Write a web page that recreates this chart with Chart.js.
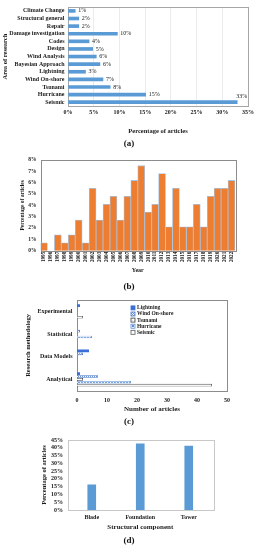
<!DOCTYPE html>
<html><head><meta charset="utf-8">
<script src="https://cdn.jsdelivr.net/npm/chart.js@4/dist/chart.umd.min.js"></script>
<style>
html,body{margin:0;padding:0;background:#fff;}
body{width:258px;height:550px;position:relative;overflow:hidden;font-family:"Liberation Serif",serif;}
.box{position:absolute;left:0;width:258px;}
.box canvas{display:block;}
.cap{position:absolute;left:0;width:258px;height:10px;line-height:10px;text-align:center;font-weight:bold;font-size:9px;color:#111;}
</style></head><body>
<div class="box" style="top:0;height:140px"><canvas id="ca" width="258" height="140"></canvas></div>
<div class="cap" style="top:138px">(a)</div>
<div class="box" style="top:150px;height:126px"><canvas id="cb" width="258" height="126"></canvas></div>
<div class="cap" style="top:281px">(b)</div>
<div class="box" style="top:292px;height:124px"><canvas id="cc" width="258" height="124"></canvas></div>
<div class="cap" style="top:416px">(c)</div>
<div class="box" style="top:432px;height:102px"><canvas id="cd" width="258" height="102"></canvas></div>
<div class="cap" style="top:535px">(d)</div>
<script>
// ---------- data ----------
const areaLabels = ['Climate Change','Structural general','Repair','Damage investigation','Codes','Design','Wind Analysis','Bayesian Approach','Lightning','Wind On-shore','Tsunami','Hurricane','Seismic'];
const areaValues = [1.4, 2.1, 2.1, 9.6, 4.1, 4.8, 5.5, 6.2, 3.4, 6.8, 8.2, 15.1, 32.9];

const years = ['1995','1996','1997','1998','1999','2000','2001','2002','2003','2004','2005','2006','2007','2008','2009','2010','2011','2012','2013','2014','2015','2016','2017','2018','2019','2020','2021','2022'];
const yearValues = [0.7, 0, 1.4, 0.7, 1.4, 2.7, 0.7, 5.5, 2.7, 4.1, 4.8, 2.7, 4.8, 6.2, 7.5, 3.4, 4.1, 6.8, 2.1, 5.5, 2.1, 2.1, 4.1, 2.1, 4.8, 5.5, 5.5, 6.2];

const methodCategories = ['Experimental','Statistical','Data Models','Analytical'];
const lightningCounts   = [1, 0, 4, 1];
const windOnshoreCounts = [0, 1, 2, 7];
const tsunamiCounts     = [0, 0, 0, 2];
const hurricaneCounts   = [0, 5, 0, 18];
const seismicCounts     = [2, 0, 0, 45];

const components = ['Blade','Foundation','Tower'];
const componentValues = [16.2, 42.6, 41.2];

// ---------- helpers ----------
Chart.defaults.font.family = '"Liberation Serif", "Times New Roman", serif';
Chart.defaults.font.weight = 'bold';
Chart.defaults.color = '#1a1a1a';
Chart.defaults.animation = false;
Chart.defaults.plugins.legend.display = false;
Chart.defaults.plugins.tooltip.enabled = false;

const framePlugin = {
  id: 'frame',
  beforeDatasetsDraw(chart, args, opts) {
    if (!opts || !opts.color) return;
    const a = chart.chartArea, ctx = chart.ctx;
    ctx.save();
    ctx.strokeStyle = opts.color;
    ctx.lineWidth = opts.width || 1;
    ctx.strokeRect(Math.round(a.left) + 0.5, Math.round(a.top) + 0.5, Math.round(a.right - a.left), Math.round(a.bottom - a.top));
    ctx.restore();
  }
};
const valueLabelPlugin = {
  id: 'valueLabels',
  afterDatasetsDraw(chart, args, opts) {
    if (!opts || !opts.show) return;
    const ctx = chart.ctx, meta = chart.getDatasetMeta(0), vals = chart.data.datasets[0].data;
    ctx.save();
    ctx.font = opts.font;
    ctx.fillStyle = opts.color;
    ctx.textBaseline = 'middle';
    ctx.textAlign = 'left';
    meta.data.forEach((bar, i) => {
      const txt = Math.round(vals[i]) + '%';
      const w = ctx.measureText(txt).width;
      let x = bar.x + 3, y = bar.y;
      if (x + w > chart.chartArea.right) { x = bar.x - 1; y = bar.y - 6; }
      ctx.fillText(txt, x, y);
    });
    ctx.restore();
  }
};
const innerLegendPlugin = {
  id: 'innerLegend',
  afterDraw(chart, args, opts) {
    if (!opts || !opts.show) return;
    const ctx = chart.ctx, a = chart.chartArea;
    const x0 = a.left + opts.fx * (a.right - a.left);
    let y = a.top + opts.dy;
    ctx.save();
    ctx.font = opts.font;
    ctx.textBaseline = 'middle';
    chart.data.datasets.forEach(ds => {
      ctx.fillStyle = ds.backgroundColor;
      ctx.fillRect(x0, y - 2, 4, 4);
      ctx.strokeStyle = ds.borderColor;
      ctx.lineWidth = 0.8;
      ctx.strokeRect(x0, y - 2, 4, 4);
      ctx.fillStyle = '#1a1a1a';
      ctx.fillText(ds.label, x0 + 6, y);
      y += opts.step;
    });
    ctx.restore();
  }
};
function makePattern(size, draw) {
  const c = document.createElement('canvas');
  c.width = c.height = size;
  const x = c.getContext('2d');
  draw(x);
  return x.createPattern(c, 'repeat');
}
const F = (size) => ({ family: '"Liberation Serif", "Times New Roman", serif', size: size, weight: 'bold' });
const noGrid = { display: false, drawTicks: false };

// ---------- (a) ----------
new Chart(document.getElementById('ca'), {
  type: 'bar',
  data: { labels: areaLabels, datasets: [{ data: areaValues, backgroundColor: '#5B9BD5', barThickness: 3 }] },
  options: {
    responsive: false, indexAxis: 'y',
    layout: { padding: { top: 3, right: 10, left: 0, bottom: 0 } },
    plugins: { frame: { color: '#a6a6a6' }, valueLabels: { show: true, font: '6px "Liberation Serif", serif', color: '#1a1a1a' } },
    scales: {
      y: {
        afterFit: s => { s.width = 68; },
        grid: noGrid, border: { display: false },
        ticks: { font: F(6), padding: 3.5, autoSkip: false },
        title: { display: true, text: 'Area of research', font: F(6.5), padding: { top: 1.2, bottom: 0 } }
      },
      x: {
        min: 0, max: 35,
        afterFit: s => { s.height = 34; },
        grid: { color: '#ececec', drawTicks: false }, border: { display: false },
        ticks: { stepSize: 5, font: F(6), padding: 3, autoSkip: false, callback: v => v + '%' },
        title: { display: true, text: 'Percentage of articles', font: F(6.5), padding: { top: 0, bottom: 5 } }
      }
    }
  },
  plugins: [framePlugin, valueLabelPlugin]
});

// ---------- (b) ----------
new Chart(document.getElementById('cb'), {
  type: 'bar',
  data: { labels: years, datasets: [{ data: yearValues, backgroundColor: '#ED7D31', borderColor: '#a9c4e0', borderWidth: 0.8, categoryPercentage: 1, barPercentage: 1 }] },
  options: {
    responsive: false,
    layout: { padding: { top: 10, right: 23, left: 0, bottom: 0 } },
    plugins: { frame: { color: '#8c8c8c' } },
    scales: {
      y: {
        min: 0, max: 8,
        afterFit: s => { s.width = 40.5; },
        grid: noGrid, border: { display: false },
        ticks: { stepSize: 1, font: F(5.5), padding: 4, autoSkip: false, callback: v => v + '%' },
        title: { display: true, text: 'Percentage of articles', font: F(5.5), padding: { top: 19.7, bottom: 0 } }
      },
      x: {
        afterFit: s => { s.height = 25.3; },
        grid: noGrid, border: { display: false },
        ticks: { font: F(5.2), padding: 1, autoSkip: false, minRotation: 90, maxRotation: 90 },
        title: { display: true, text: 'Year', font: F(6), padding: { top: 0, bottom: 2.2 } }
      }
    }
  },
  plugins: [framePlugin]
});

// ---------- (c) ----------
const ctxC = document.getElementById('cc').getContext('2d');
const windPat = makePattern(2, x => { x.fillStyle = '#fff'; x.fillRect(0,0,2,2); x.fillStyle = '#6f95d8'; x.fillRect(0,0,1,1); x.fillRect(1,1,1,1); });
const hurPat = makePattern(3, x => { x.fillStyle = '#fff'; x.fillRect(0,0,3,3); x.fillStyle = '#5b8fd6'; x.fillRect(0,0,2,2); });
const tsuPat = makePattern(2, x => { x.fillStyle = '#fff'; x.fillRect(0,0,2,2); x.fillStyle = '#d9d9d9'; x.fillRect(0,0,1,1); });
new Chart(ctxC, {
  type: 'bar',
  data: {
    labels: methodCategories,
    datasets: [
      { label: 'Lightning', data: lightningCounts, backgroundColor: '#3a6fd8', borderColor: '#3a6fd8', borderWidth: 0 },
      { label: 'Wind On-shore', data: windOnshoreCounts, backgroundColor: windPat, borderColor: '#4a78c8', borderWidth: 0.8 },
      { label: 'Tsunami', data: tsunamiCounts, backgroundColor: tsuPat, borderColor: '#404040', borderWidth: 0.8 },
      { label: 'Hurricane', data: hurricaneCounts, backgroundColor: hurPat, borderColor: '#5b8fd6', borderWidth: 0.8 },
      { label: 'Seismic', data: seismicCounts, backgroundColor: '#ffffff', borderColor: '#595959', borderWidth: 0.8 }
    ]
  },
  options: {
    responsive: false, indexAxis: 'y',
    datasets: { bar: { categoryPercentage: 0.64, barPercentage: 0.92 } },
    layout: { padding: { top: 3.5, right: 31, left: 0, bottom: 0 } },
    plugins: { frame: { color: '#8c8c8c' }, innerLegend: { show: true, fx: 0.36, dy: 7.8, step: 6.1, font: 'bold 5.5px "Liberation Serif", serif' } },
    scales: {
      y: {
        afterFit: s => { s.width = 77; },
        grid: noGrid, border: { display: false },
        ticks: { font: F(6), padding: 4.5, autoSkip: false },
        title: { display: true, text: 'Research methodology', font: F(6.5), padding: { top: 24, bottom: 0 } }
      },
      x: {
        min: 0, max: 50,
        afterFit: s => { s.height = 25.3; },
        grid: noGrid, border: { display: false },
        ticks: { stepSize: 10, font: F(6), padding: 6, autoSkip: false },
        title: { display: true, text: 'Number of articles', font: F(7), padding: { top: 0, bottom: 2.8 } }
      }
    }
  },
  plugins: [framePlugin, innerLegendPlugin]
});

// ---------- (d) ----------
new Chart(document.getElementById('cd'), {
  type: 'bar',
  data: { labels: components, datasets: [{ data: componentValues, backgroundColor: '#5B9BD5', barThickness: 8 }] },
  options: {
    responsive: false,
    layout: { padding: { top: 3.7, right: 45, left: 0, bottom: 0 } },
    plugins: { frame: { color: '#c8c8c8' } },
    scales: {
      y: {
        min: 0, max: 45,
        afterFit: s => { s.width = 67.5; },
        grid: noGrid, border: { display: false },
        ticks: { stepSize: 5, font: F(6), padding: 4.5, autoSkip: false, callback: v => v + '%' },
        title: { display: true, text: 'Percentage of articles', font: F(6.5), padding: { top: 40, bottom: 0 } }
      },
      x: {
        afterFit: s => { s.height = 24; },
        grid: noGrid, border: { display: false },
        ticks: { font: F(6), padding: 4, autoSkip: false },
        title: { display: true, text: 'Structural component', font: F(7), padding: { top: 0, bottom: 2.8 } }
      }
    }
  },
  plugins: [framePlugin]
});
</script>
</body></html>
